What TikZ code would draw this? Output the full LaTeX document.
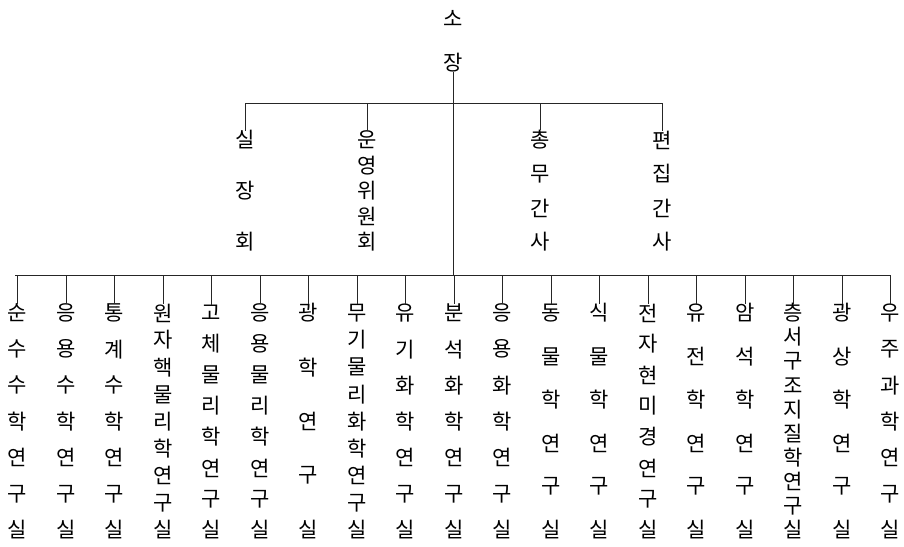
\documentclass[tikz,border=0pt]{standalone}
\usepackage{fontspec}
\newfontfamily\kr{Noto Sans CJK KR}
\tikzset{
  ch/.style={font=\kr\fontsize{21}{21}\selectfont, inner sep=0pt, outer sep=0pt, text=black},
  ln/.style={draw=black!85, line width=0.9pt}
}
\newcommand\vcol[6]{%
  \foreach \c [count=\i] in {#6} {
    \node[ch] (#1-\i) at (#2, {#3+(\i-1)*(#4-#3)/(#5-1)}) {\c};
  }}
\begin{document}
\begin{tikzpicture}[x=1pt,y=-1pt]
\useasboundingbox (0,0) rectangle (904,546);
% top
\node[ch] (so) at (453,18) {소};
\node[ch] (jang) at (453,63) {장};
\coordinate (tl) at (245,103);
\coordinate (tr) at (662,103);
\coordinate (bl) at (15,275);
\coordinate (br) at (890,275);
\draw[ln] (tl) -- (tr);
\draw[ln] (bl) -- (br);
\draw[ln] (jang.south) -- (jang.south |- bl);
% second level
\vcol{a}{245}{140}{242}{3}{실,장,회}
\vcol{b}{367}{140}{242}{5}{운,영,위,원,회}
\vcol{c}{540}{140}{242}{4}{총,무,간,사}
\vcol{d}{662}{140}{242}{4}{편,집,간,사}
\foreach \n in {a,b,c,d} { \draw[ln] (\n-1.north |- tl) -- (\n-1.north); }
% third level
\vcol{k1}{17}{313}{530}{7}{순,수,수,학,연,구,실}
\vcol{k2}{66}{313}{530}{7}{응,용,수,학,연,구,실}
\vcol{k3}{114}{313}{530}{7}{통,계,수,학,연,구,실}
\vcol{k4}{163}{313}{530}{9}{원,자,핵,물,리,학,연,구,실}
\vcol{k5}{211}{313}{530}{8}{고,체,물,리,학,연,구,실}
\vcol{k6}{260}{313}{530}{8}{응,용,물,리,학,연,구,실}
\vcol{k7}{308}{313}{530}{5}{광,학,연,구,실}
\vcol{k8}{357}{313}{530}{9}{무,기,물,리,화,학,연,구,실}
\vcol{k9}{405}{313}{530}{7}{유,기,화,학,연,구,실}
\vcol{k10}{454}{313}{530}{7}{분,석,화,학,연,구,실}
\vcol{k11}{502}{313}{530}{7}{응,용,화,학,연,구,실}
\vcol{k12}{551}{313}{530}{6}{동,물,학,연,구,실}
\vcol{k13}{599}{313}{530}{6}{식,물,학,연,구,실}
\vcol{k14}{648}{313}{530}{8}{전,자,현,미,경,연,구,실}
\vcol{k15}{696}{313}{530}{6}{유,전,학,연,구,실}
\vcol{k16}{745}{313}{530}{6}{암,석,학,연,구,실}
\vcol{k17}{793}{313}{530}{10}{층,서,구,조,지,질,학,연,구,실}
\vcol{k18}{842}{313}{530}{6}{광,상,학,연,구,실}
\vcol{k19}{890}{313}{530}{7}{우,주,과,학,연,구,실}
\foreach \n in {1,...,19} { \draw[ln] (k\n-1.north |- bl) -- (k\n-1.north); }
\end{tikzpicture}
\end{document}
